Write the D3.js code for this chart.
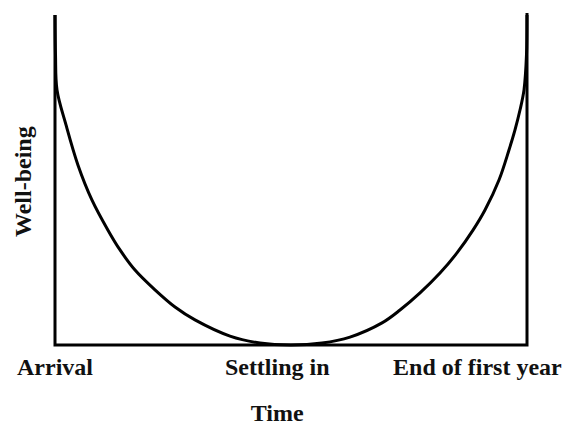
<!DOCTYPE html>
<meta charset="utf-8">
<style>
body { margin: 0; background: #fff; }
text { font-family: "Liberation Serif", "Times New Roman", serif; font-weight: bold; fill: #111; }
</style>
<svg></svg>
<script src="https://d3js.org/d3.v7.min.js"></script>
<script>
var width = 567,
    height = 426;

// months since arrival and well-being (0-10)
var months = [0, 0.013, 0.051, 0.28, 0.585, 0.941, 1.347, 1.653, 2.034, 2.542, 3.051, 3.559, 4.449, 5.212, 6.0,
              6.788, 7.5, 8.314, 8.771, 9.28, 9.788, 10.22, 10.627, 10.932, 11.288, 11.542, 11.695, 11.822, 11.924, 11.987, 12];
var wellBeing = [10, 8.79, 7.73, 6.67, 5.45, 4.39, 3.48, 2.88, 2.27, 1.67, 1.15, 0.76, 0.27, 0.06, 0,
                 0.06, 0.24, 0.67, 1.06, 1.58, 2.18, 2.79, 3.48, 4.09, 5.0, 5.91, 6.52, 7.12, 7.73, 8.79, 10];

var tickMonths = [0, 5.65, 10.74];
var tickLabels = ["Arrival", "Settling in", "End of first year"];

var margin = {top: 15, right: 40, bottom: 81, left: 55};

var svg = d3.select("svg")
    .attr("width", width)
    .attr("height", height);

var x = d3.scaleLinear()
    .domain([0, 12])
    .range([margin.left, width - margin.right]);

var y = d3.scaleLinear()
    .domain([0, 10])
    .range([height - margin.bottom, margin.top]);

// frame: left, bottom and right lines
svg.append("path")
    .attr("d", "M" + x(0) + "," + y(10) + "V" + y(0) + "H" + x(12) + "V" + (y(10) - 2))
    .attr("fill", "none")
    .attr("stroke", "#000")
    .attr("stroke-width", 3);

var line = d3.line()
    .x(function(d) { return x(d[0]); })
    .y(function(d) { return y(d[1]); })
    .curve(d3.curveCatmullRom.alpha(0.5));

svg.append("path")
    .datum(d3.zip(months, wellBeing))
    .attr("d", line)
    .attr("fill", "none")
    .attr("stroke", "#000")
    .attr("stroke-width", 3);

svg.selectAll(".tick-label")
    .data(tickLabels)
  .enter().append("text")
    .attr("class", "tick-label")
    .attr("x", function(d, i) { return x(tickMonths[i]); })
    .attr("y", y(0) + 30)
    .attr("text-anchor", "middle")
    .style("font-size", "24px")
    .text(function(d) { return d; });

svg.append("text")
    .attr("x", x(5.65))
    .attr("y", y(0) + 76)
    .attr("text-anchor", "middle")
    .style("font-size", "24px")
    .text("Time");

svg.append("text")
    .attr("transform", "translate(31," + y(4.95) + ") rotate(-90)")
    .attr("text-anchor", "middle")
    .style("font-size", "24px")
    .text("Well-being");
</script>
